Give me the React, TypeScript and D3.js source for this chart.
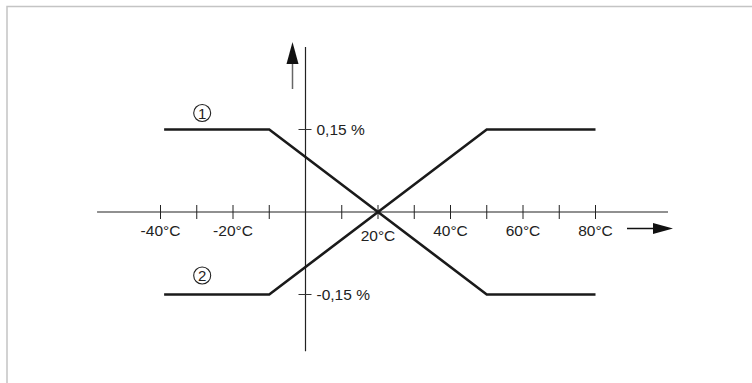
import React from "react";
import * as d3 from "d3";

// temperature knee points (°C) and the two error curves (%)
const temps = [-39, -10, 20, 50, 80];
const curve1 = [0.15, 0.15, 0, -0.15, -0.15];
const curve2 = [-0.15, -0.15, 0, 0.15, 0.15];

const xTicks = [-40, -30, -20, -10, 10, 20, 30, 40, 50, 60, 70, 80];
const xLabels = [-40, -20, 20, 40, 60, 80];
const yTicks = [0.15, -0.15];
const yLabels = ["0,15 %", "-0,15 %"];
const curveNames = ["1", "2"];

const W = 752;
const H = 383;

const App = () => {
  const x = d3.scaleLinear().domain([-40, 80]).range([160.5, 595.5]);
  const y = d3.scaleLinear().domain([-0.15, 0.15]).range([294.5, 129.5]);

  const line = d3
    .line<number>()
    .x((_, i) => x(temps[i]))
    .y((d) => y(d));

  const x0 = x(0);
  const y0 = y(0);
  const font = "'Liberation Sans', Arial, sans-serif";

  return (
    <svg
      width={W}
      height={H}
      style={{ position: "absolute", left: 0, top: 0, display: "block", background: "#fff" }}
    >
      {/* frame */}
      <rect x={7} y={6.5} width={800} height={420} fill="none" stroke="#c4c4c4" strokeWidth={1.5} />

      {/* x axis */}
      <line x1={x(-57.5)} x2={x(100)} y1={y0} y2={y0} stroke="#222" strokeWidth={1.2} />
      {xTicks.map((t) => (
        <line key={t} x1={x(t)} x2={x(t)} y1={y0 - 7} y2={y0 + 7} stroke="#222" strokeWidth={1} />
      ))}
      {xLabels.map((t) => (
        <text
          key={t}
          x={x(t)}
          y={t === 20 ? y0 + 29 : y0 + 24}
          textAnchor="middle"
          fontFamily={font}
          fontSize={15.5}
          fill="#222"
        >
          {t}°C
        </text>
      ))}

      {/* y axis */}
      <line x1={x0} x2={x0} y1={y(0.3)} y2={y(-0.253)} stroke="#222" strokeWidth={1.2} />
      {yTicks.map((v, i) => (
        <g key={v}>
          <line x1={x0 - 7} x2={x0 + 6} y1={y(v)} y2={y(v)} stroke="#333" strokeWidth={1} />
          <text x={x0 + 11} y={y(v) + 5.5} fontFamily={font} fontSize={15.5} fill="#222">
            {yLabels[i]}
          </text>
        </g>
      ))}

      {/* direction arrows */}
      <line x1={x0 - 13} x2={x0 - 13} y1={89} y2={62} stroke="#666" strokeWidth={1.5} />
      <path d={`M${x0 - 13},42 L${x0 - 19},64 L${x0 - 7},64 Z`} fill="#111" />
      <line x1={627} x2={655} y1={y0 + 16.5} y2={y0 + 16.5} stroke="#111" strokeWidth={1.5} />
      <path d={`M673,${y0 + 16.5} L653,${y0 + 11} L653,${y0 + 22} Z`} fill="#111" />

      {/* curves */}
      {[curve1, curve2].map((c, i) => (
        <path
          key={i}
          d={line(c) ?? ""}
          fill="none"
          stroke="#1a1a1a"
          strokeWidth={2.6}
          strokeLinejoin="miter"
        />
      ))}

      {/* curve markers */}
      {curveNames.map((n, i) => {
        const cy = i === 0 ? y(0.15) - 16.5 : y(-0.15) - 19;
        const cx = x(-28.5);
        return (
          <g key={n}>
            <circle cx={cx} cy={cy} r={8.5} fill="none" stroke="#222" strokeWidth={1.1} />
            <text
              x={cx}
              y={cy + 5.5}
              textAnchor="middle"
              fontFamily={font}
              fontSize={15}
              fill="#222"
            >
              {n}
            </text>
          </g>
        );
      })}
    </svg>
  );
};

export default App;
